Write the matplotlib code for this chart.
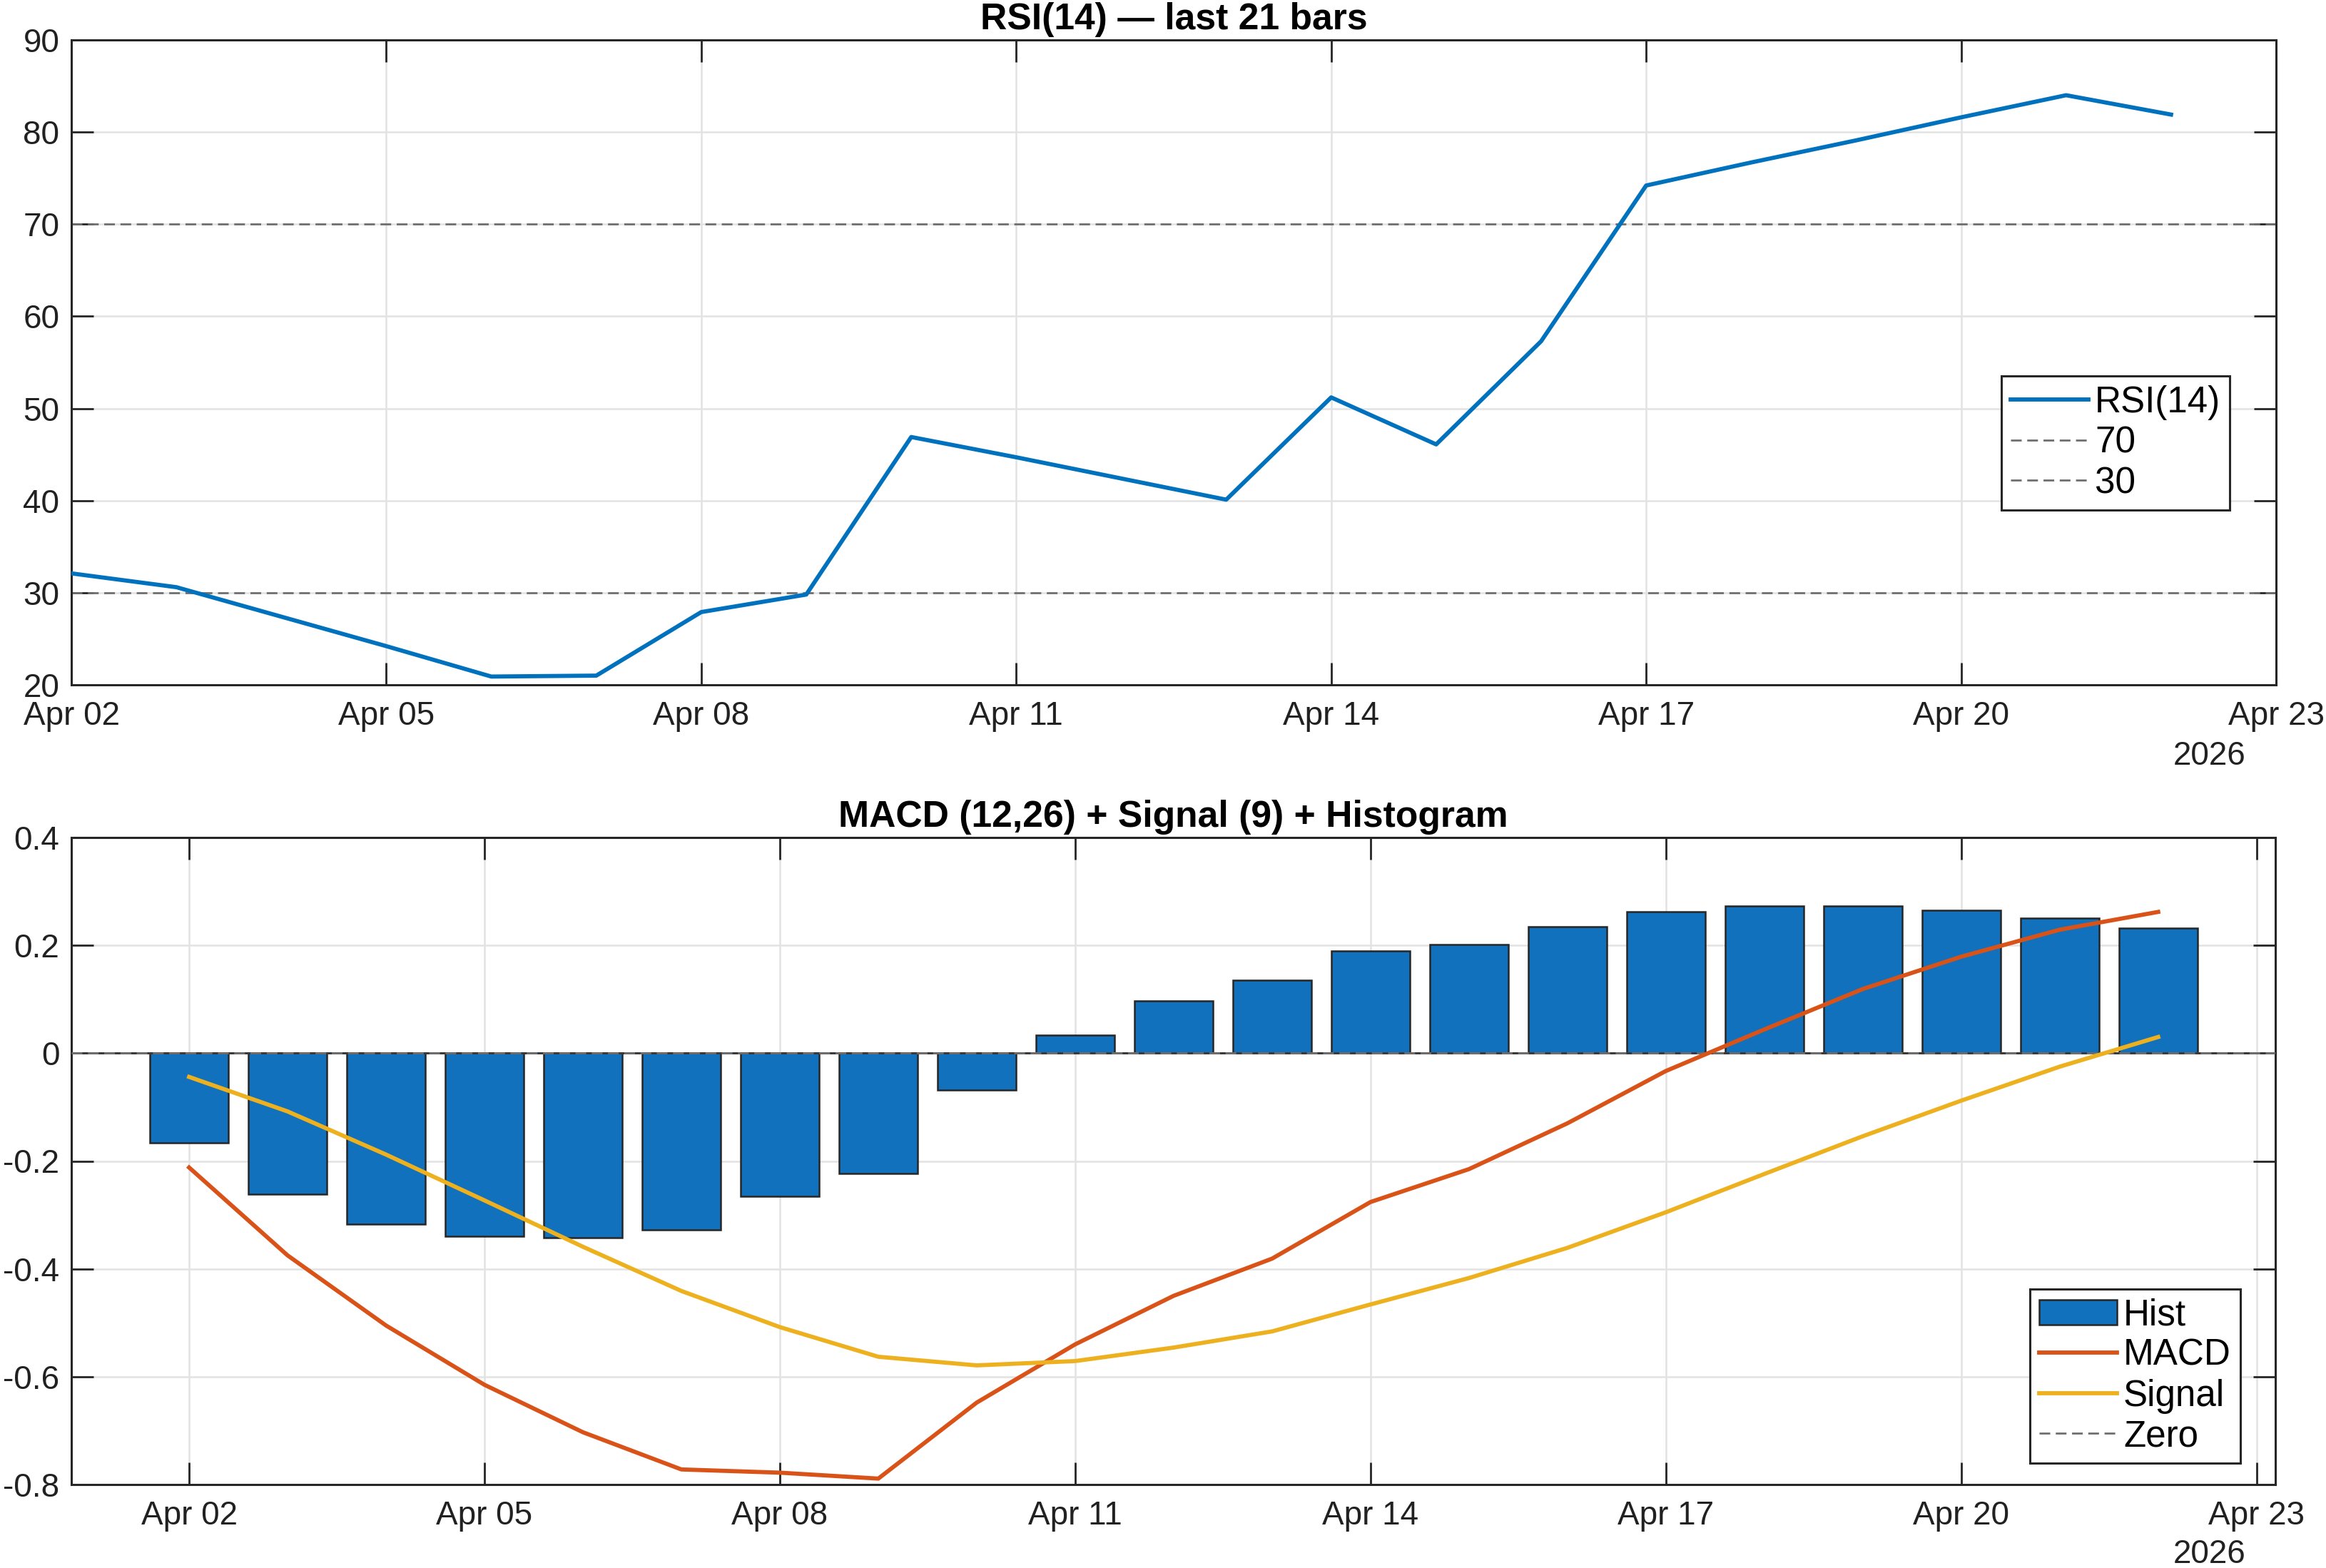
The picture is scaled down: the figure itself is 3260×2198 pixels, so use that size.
import matplotlib
matplotlib.use('Agg')
import matplotlib.pyplot as plt
import matplotlib.dates as mdates
import datetime as dt

plt.rcParams['font.family'] = ['Liberation Sans', 'DejaVu Sans']

# ---------------- data ----------------
dates = ['2026-04-02', '2026-04-03', '2026-04-04', '2026-04-05', '2026-04-06',
         '2026-04-07', '2026-04-08', '2026-04-09', '2026-04-10', '2026-04-11',
         '2026-04-12', '2026-04-13', '2026-04-14', '2026-04-15', '2026-04-16',
         '2026-04-17', '2026-04-18', '2026-04-19', '2026-04-20', '2026-04-21',
         '2026-04-22']
rsi = [32.1, 30.6, 27.4, 24.2, 20.9, 21.0, 27.9, 29.8, 46.9, 44.7,
       42.4, 40.1, 51.2, 46.1, 57.3, 74.2, 76.7, 79.1, 81.6, 84.0, 81.9]
rsi_levels = [70, 30]
rsi_level_labels = ['70', '30']

hist = [-0.166, -0.262, -0.317, -0.339, -0.342, -0.328, -0.265, -0.223, -0.069, 0.033,
        0.097, 0.135, 0.190, 0.201, 0.234, 0.262, 0.273, 0.273, 0.265, 0.251, 0.232]
macd = [-0.212, -0.375, -0.505, -0.615, -0.703, -0.772, -0.778, -0.789, -0.648, -0.540,
        -0.450, -0.381, -0.276, -0.215, -0.130, -0.033, 0.044, 0.119, 0.179, 0.229, 0.262]
signal = [-0.044, -0.108, -0.188, -0.273, -0.359, -0.441, -0.508, -0.563, -0.579, -0.571,
          -0.546, -0.516, -0.466, -0.417, -0.361, -0.295, -0.224, -0.154, -0.088, -0.025, 0.030]

tick_dates = ['2026-04-02', '2026-04-05', '2026-04-08', '2026-04-11', '2026-04-14',
              '2026-04-17', '2026-04-20', '2026-04-23']
rsi_yticks = [20, 30, 40, 50, 60, 70, 80, 90]
macd_yticks = [-0.8, -0.6, -0.4, -0.2, 0, 0.2, 0.4]
macd_yticklabels = ['-0.8', '-0.6', '-0.4', '-0.2', '0', '0.2', '0.4']
year_label = '2026'

# ---------------- style ----------------
BLUE = '#0072BD'
BARBLUE = '#1171BD'
ORANGE = '#D95319'
YELLOW = '#EDB120'
AXC = '#262626'
GRIDC = '#e2e2e2'
REFC = '#6f6f6f'
DASH = (0, (5.4, 2.8))
LW = 2.1
TICKFS = 16.5
TITLEFS = 18.6
LEGFS = 18.4

def parse(d):
    return dt.datetime.strptime(d, '%Y-%m-%d')

x = [parse(d) for d in dates]
xt = [parse(d) for d in tick_dates]

fig = plt.figure(figsize=(16.3, 10.99), dpi=200)
ax1 = fig.add_axes([100 / 3260, 1 - 960 / 2198, 3090 / 3260, 904 / 2198])
ax2 = fig.add_axes([100 / 3260, 1 - 2081 / 2198, 3089 / 3260, 907 / 2198])

def style(ax):
    for s in ax.spines.values():
        s.set_color(AXC)
        s.set_linewidth(1.1)
    ax.tick_params(direction='in', length=11, width=1, top=True, right=True,
                   labelsize=TICKFS, colors=AXC, labelcolor='#212121')
    ax.tick_params(axis='x', pad=8)
    ax.tick_params(axis='y', pad=6)
    ax.grid(True, color=GRIDC, linewidth=0.9)
    ax.set_axisbelow(True)
    ax.set_xticks(xt)
    ax.xaxis.set_major_formatter(mdates.DateFormatter('%b %d'))

def legend(ax, handles, anchor):
    lg = ax.legend(handles=handles, loc='lower right', bbox_to_anchor=anchor,
                   borderaxespad=0, fontsize=LEGFS, fancybox=False, framealpha=1,
                   edgecolor=AXC, handlelength=2.13, handletextpad=0.18,
                   labelspacing=0.15, borderpad=0.25)
    lg.get_frame().set_linewidth(1.1)
    return lg

# ---- RSI ----
style(ax1)
l_rsi, = ax1.plot(x, rsi, color=BLUE, linewidth=LW, label='RSI(14)', zorder=3)
lvl_handles = []
for lv, lab in zip(rsi_levels, rsi_level_labels):
    h = ax1.axhline(lv, color=REFC, linewidth=1.0, linestyle=DASH, label=lab, zorder=2)
    lvl_handles.append(h)
ax1.set_xlim(xt[0], xt[-1])
ax1.set_ylim(rsi_yticks[0], rsi_yticks[-1])
ax1.set_yticks(rsi_yticks)
ax1.set_title('RSI(14) \u2014 last 21 bars', fontsize=TITLEFS, fontweight='bold', pad=5.4)
legend(ax1, [l_rsi] + lvl_handles, (0.979, 0.271))

# ---- MACD ----
style(ax2)
bars = ax2.bar(x, hist, width=0.8, color=BARBLUE, edgecolor=AXC, linewidth=0.9,
               label='Hist', zorder=2)
ax2.axhline(0, color='#3a3a3a', linewidth=1.1, zorder=2.5)
l_macd, = ax2.plot(x, macd, color=ORANGE, linewidth=LW, label='MACD', zorder=3)
l_sig, = ax2.plot(x, signal, color=YELLOW, linewidth=LW, label='Signal', zorder=3)
l_zero = ax2.axhline(0, color=REFC, linewidth=1.0, linestyle=DASH, label='Zero', zorder=2.6)
ax2.set_xlim(xt[0] - dt.timedelta(days=1.196), xt[-1] + dt.timedelta(days=0.19))
ax2.set_ylim(macd_yticks[0], macd_yticks[-1])
ax2.set_yticks(macd_yticks)
ax2.set_yticklabels(macd_yticklabels)
ax2.set_title('MACD (12,26) + Signal (9) + Histogram', fontsize=TITLEFS, fontweight='bold', pad=5.4)
legend(ax2, [bars, l_macd, l_sig, l_zero], (0.984, 0.033))

fig.text(3097 / 3260, 1 - 1060 / 2198, year_label, fontsize=TICKFS, color='#212121',
         ha='center', va='center')
fig.text(3097 / 3260, 1 - 2179 / 2198, year_label, fontsize=TICKFS, color='#212121',
         ha='center', va='center')

fig.savefig('out.png', dpi=200, facecolor='white')
